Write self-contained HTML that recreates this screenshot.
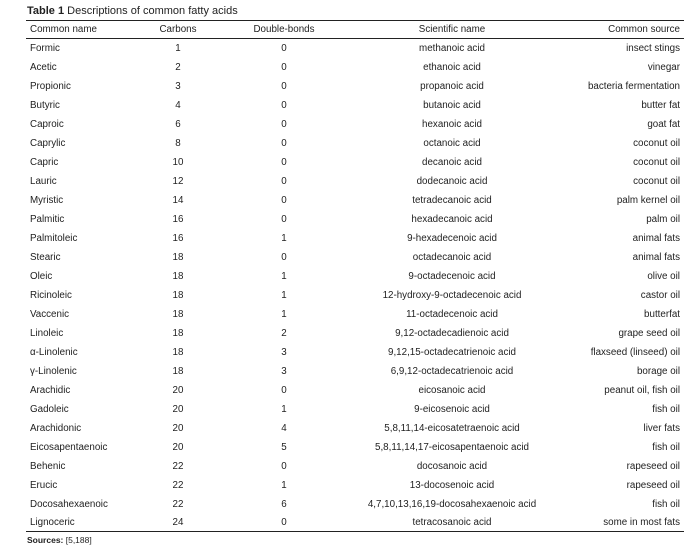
<!DOCTYPE html><html><head><style>
body{margin:0;width:700px;height:546px;background:#fff;font-family:"Liberation Sans",sans-serif;color:#222;font-size:9.8px;position:relative;overflow:hidden}
.t{position:absolute;left:27px;top:5px;font-size:11px}
.l{position:absolute;left:26px;width:658px;background:#222}
.r{position:absolute;left:0;width:700px;height:19px;line-height:19px}
.r span{position:absolute;white-space:nowrap}
.a{left:30px}.b{left:148px;width:60px;text-align:center}.c{left:244px;width:80px;text-align:center}
.d{left:332px;width:240px;text-align:center}.e{right:20px;text-align:right}
.s{position:absolute;left:27px;top:535px;font-size:8.5px}
#g{position:absolute;left:0;top:1px;width:700px}
</style></head><body>
<div class="t"><b>Table 1</b> Descriptions of common fatty acids</div>
<div class="l" style="top:20px;height:1.3px"></div>
<div class="l" style="top:38px;height:1px"></div>
<div class="l" style="top:531px;height:1.3px"></div>
<div class="r" style="top:20px"><span class="a">Common name</span><span class="b">Carbons</span><span class="c">Double-bonds</span><span class="d">Scientific name</span><span class="e">Common source</span></div>
<div id="g">
<div class="r" style="top:38px"><span class="a">Formic</span><span class="b">1</span><span class="c">0</span><span class="d">methanoic acid</span><span class="e">insect stings</span></div>
<div class="r" style="top:57px"><span class="a">Acetic</span><span class="b">2</span><span class="c">0</span><span class="d">ethanoic acid</span><span class="e">vinegar</span></div>
<div class="r" style="top:76px"><span class="a">Propionic</span><span class="b">3</span><span class="c">0</span><span class="d">propanoic acid</span><span class="e">bacteria fermentation</span></div>
<div class="r" style="top:95px"><span class="a">Butyric</span><span class="b">4</span><span class="c">0</span><span class="d">butanoic acid</span><span class="e">butter fat</span></div>
<div class="r" style="top:114px"><span class="a">Caproic</span><span class="b">6</span><span class="c">0</span><span class="d">hexanoic acid</span><span class="e">goat fat</span></div>
<div class="r" style="top:133px"><span class="a">Caprylic</span><span class="b">8</span><span class="c">0</span><span class="d">octanoic acid</span><span class="e">coconut oil</span></div>
<div class="r" style="top:152px"><span class="a">Capric</span><span class="b">10</span><span class="c">0</span><span class="d">decanoic acid</span><span class="e">coconut oil</span></div>
<div class="r" style="top:171px"><span class="a">Lauric</span><span class="b">12</span><span class="c">0</span><span class="d">dodecanoic acid</span><span class="e">coconut oil</span></div>
<div class="r" style="top:190px"><span class="a">Myristic</span><span class="b">14</span><span class="c">0</span><span class="d">tetradecanoic acid</span><span class="e">palm kernel oil</span></div>
<div class="r" style="top:209px"><span class="a">Palmitic</span><span class="b">16</span><span class="c">0</span><span class="d">hexadecanoic acid</span><span class="e">palm oil</span></div>
<div class="r" style="top:228px"><span class="a">Palmitoleic</span><span class="b">16</span><span class="c">1</span><span class="d">9-hexadecenoic acid</span><span class="e">animal fats</span></div>
<div class="r" style="top:247px"><span class="a">Stearic</span><span class="b">18</span><span class="c">0</span><span class="d">octadecanoic acid</span><span class="e">animal fats</span></div>
<div class="r" style="top:266px"><span class="a">Oleic</span><span class="b">18</span><span class="c">1</span><span class="d">9-octadecenoic acid</span><span class="e">olive oil</span></div>
<div class="r" style="top:285px"><span class="a">Ricinoleic</span><span class="b">18</span><span class="c">1</span><span class="d">12-hydroxy-9-octadecenoic acid</span><span class="e">castor oil</span></div>
<div class="r" style="top:304px"><span class="a">Vaccenic</span><span class="b">18</span><span class="c">1</span><span class="d">11-octadecenoic acid</span><span class="e">butterfat</span></div>
<div class="r" style="top:323px"><span class="a">Linoleic</span><span class="b">18</span><span class="c">2</span><span class="d">9,12-octadecadienoic acid</span><span class="e">grape seed oil</span></div>
<div class="r" style="top:342px"><span class="a">α-Linolenic</span><span class="b">18</span><span class="c">3</span><span class="d">9,12,15-octadecatrienoic acid</span><span class="e">flaxseed (linseed) oil</span></div>
<div class="r" style="top:361px"><span class="a">γ-Linolenic</span><span class="b">18</span><span class="c">3</span><span class="d">6,9,12-octadecatrienoic acid</span><span class="e">borage oil</span></div>
<div class="r" style="top:380px"><span class="a">Arachidic</span><span class="b">20</span><span class="c">0</span><span class="d">eicosanoic acid</span><span class="e">peanut oil, fish oil</span></div>
<div class="r" style="top:399px"><span class="a">Gadoleic</span><span class="b">20</span><span class="c">1</span><span class="d">9-eicosenoic acid</span><span class="e">fish oil</span></div>
<div class="r" style="top:418px"><span class="a">Arachidonic</span><span class="b">20</span><span class="c">4</span><span class="d">5,8,11,14-eicosatetraenoic acid</span><span class="e">liver fats</span></div>
<div class="r" style="top:437px"><span class="a">Eicosapentaenoic</span><span class="b">20</span><span class="c">5</span><span class="d">5,8,11,14,17-eicosapentaenoic acid</span><span class="e">fish oil</span></div>
<div class="r" style="top:456px"><span class="a">Behenic</span><span class="b">22</span><span class="c">0</span><span class="d">docosanoic acid</span><span class="e">rapeseed oil</span></div>
<div class="r" style="top:475px"><span class="a">Erucic</span><span class="b">22</span><span class="c">1</span><span class="d">13-docosenoic acid</span><span class="e">rapeseed oil</span></div>
<div class="r" style="top:494px"><span class="a">Docosahexaenoic</span><span class="b">22</span><span class="c">6</span><span class="d">4,7,10,13,16,19-docosahexaenoic acid</span><span class="e">fish oil</span></div>
<div class="r" style="top:512px"><span class="a">Lignoceric</span><span class="b">24</span><span class="c">0</span><span class="d">tetracosanoic acid</span><span class="e">some in most fats</span></div>
</div>
<div class="s"><b>Sources:</b> [5,188]</div>
</body></html>
